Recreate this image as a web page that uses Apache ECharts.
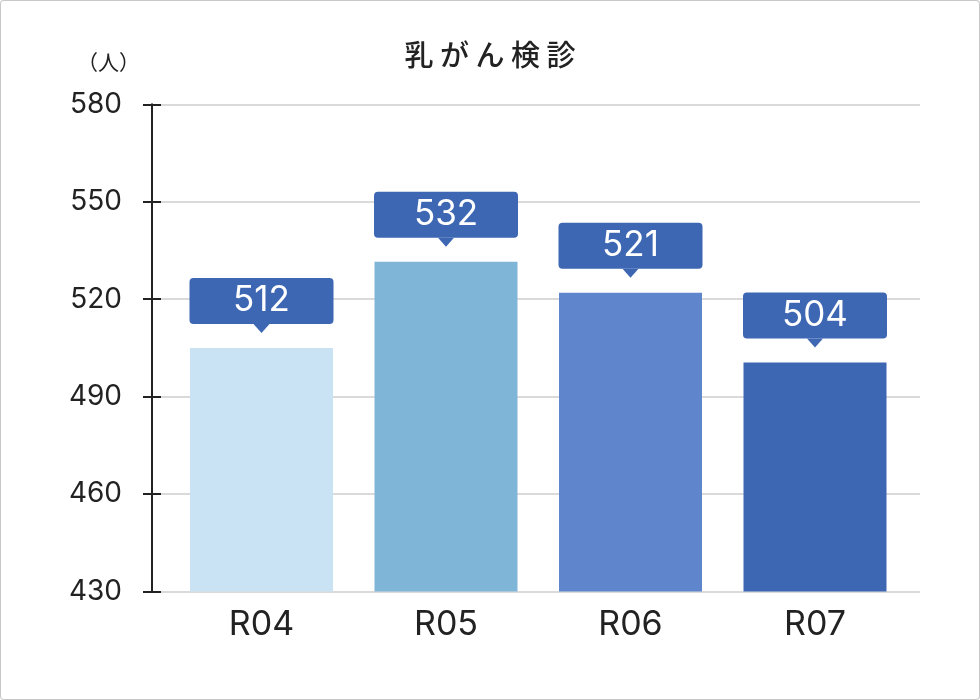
<!DOCTYPE html>
<html>
<head>
<meta charset="utf-8">
<script src="https://cdn.jsdelivr.net/npm/echarts@6/dist/echarts.min.js"></script>
<style>
    html, body { margin: 0; padding: 0; background: #fff; }
    #chart { width: 980px; height: 700px; box-sizing: border-box; box-shadow: inset 0 0 0 1px #c8c8c8; border-radius: 4px; }
</style>
</head>
<body>
<div id="chart"></div>
<script type="text/javascript">
    // categories and values
    var categories = ['R04', 'R05', 'R06', 'R07'];
    var barValues = [505, 531.5, 522, 500.5];      // bar heights as drawn
    var labelValues = [512, 532, 521, 504];        // numbers printed in the boxes
    var barColors = ['#c9e3f4', '#7fb5d7', '#5f86cc', '#3d66b3'];
    var yTicks = { min: 430, max: 580, interval: 30 };

    var axisFont = 'Inter, Liberation Sans, sans-serif';
    var jpFont = 'Noto Sans CJK JP, sans-serif';

    var myChart = echarts.init(document.getElementById('chart'));

    option = {
        animation: false,
        title: [
            {
                text: '乳 が ん 検 診',
                left: 'center',
                top: 35,
                textStyle: { fontSize: 29, fontWeight: 500, color: '#222', fontFamily: jpFont }
            },
            {
                text: '（人）',
                left: 72,
                top: 47,
                textStyle: { fontSize: 21, fontWeight: 'normal', color: '#222', fontFamily: jpFont }
            }
        ],
        grid: [
            { left: 152, right: 60, top: 104.3, bottom: 108.5 },
            { left: 169.25, right: 72.75, top: 104.3, bottom: 108.5 }
        ],
        xAxis: [
            { gridIndex: 0, type: 'value', min: 0, max: 1, show: false },
            {
                gridIndex: 1,
                type: 'category',
                data: categories,
                axisLine: { show: false },
                axisTick: { show: false },
                axisLabel: { fontSize: 34, color: '#222', margin: 16, fontFamily: axisFont }
            }
        ],
        yAxis: [
            {
                gridIndex: 0,
                type: 'value',
                position: 'left',
                min: yTicks.min,
                max: yTicks.max,
                interval: yTicks.interval,
                axisLine: { show: true, lineStyle: { color: '#222', width: 2 } },
                axisTick: { show: true, length: 9, lineStyle: { color: '#222', width: 2 } },
                axisLabel: { fontSize: 28, color: '#222', margin: 30, fontFamily: axisFont },
                splitLine: { show: true, lineStyle: { color: '#dadada', width: 2 } }
            },
            {
                // same axis again, ticks pointing inwards
                gridIndex: 0,
                type: 'value',
                position: 'left',
                offset: 0,
                min: yTicks.min,
                max: yTicks.max,
                interval: yTicks.interval,
                axisLine: { show: false },
                axisTick: { show: true, inside: true, length: 9, lineStyle: { color: '#222', width: 2 } },
                axisLabel: { show: false },
                splitLine: { show: false }
            },
            { gridIndex: 1, type: 'value', min: yTicks.min, max: yTicks.max, show: false }
        ],
        series: [
            {
                type: 'bar',
                xAxisIndex: 1,
                yAxisIndex: 2,
                barWidth: 143,
                silent: true,
                data: barValues.map(function (v, i) {
                    return { value: v, itemStyle: { color: barColors[i] } };
                }),
                label: {
                    show: true,
                    position: 'top',
                    distance: 24,
                    formatter: function (p) { return String(labelValues[p.dataIndex]); },
                    color: '#fff',
                    fontSize: 35,
                    fontFamily: axisFont,
                    backgroundColor: '#3d66b3',
                    borderRadius: 4,
                    width: 144,
                    height: 46,
                    lineHeight: 46,
                    align: 'center'
                }
            },
            {
                // little pointer under each value box
                type: 'scatter',
                xAxisIndex: 1,
                yAxisIndex: 2,
                silent: true,
                symbol: 'triangle',
                symbolRotate: 180,
                symbolSize: [16, 9],
                symbolOffset: [0, -19.5],
                itemStyle: { color: '#3d66b3', opacity: 1 },
                data: barValues
            }
        ]
    };
    myChart.setOption(option);
</script>
</body>
</html>
